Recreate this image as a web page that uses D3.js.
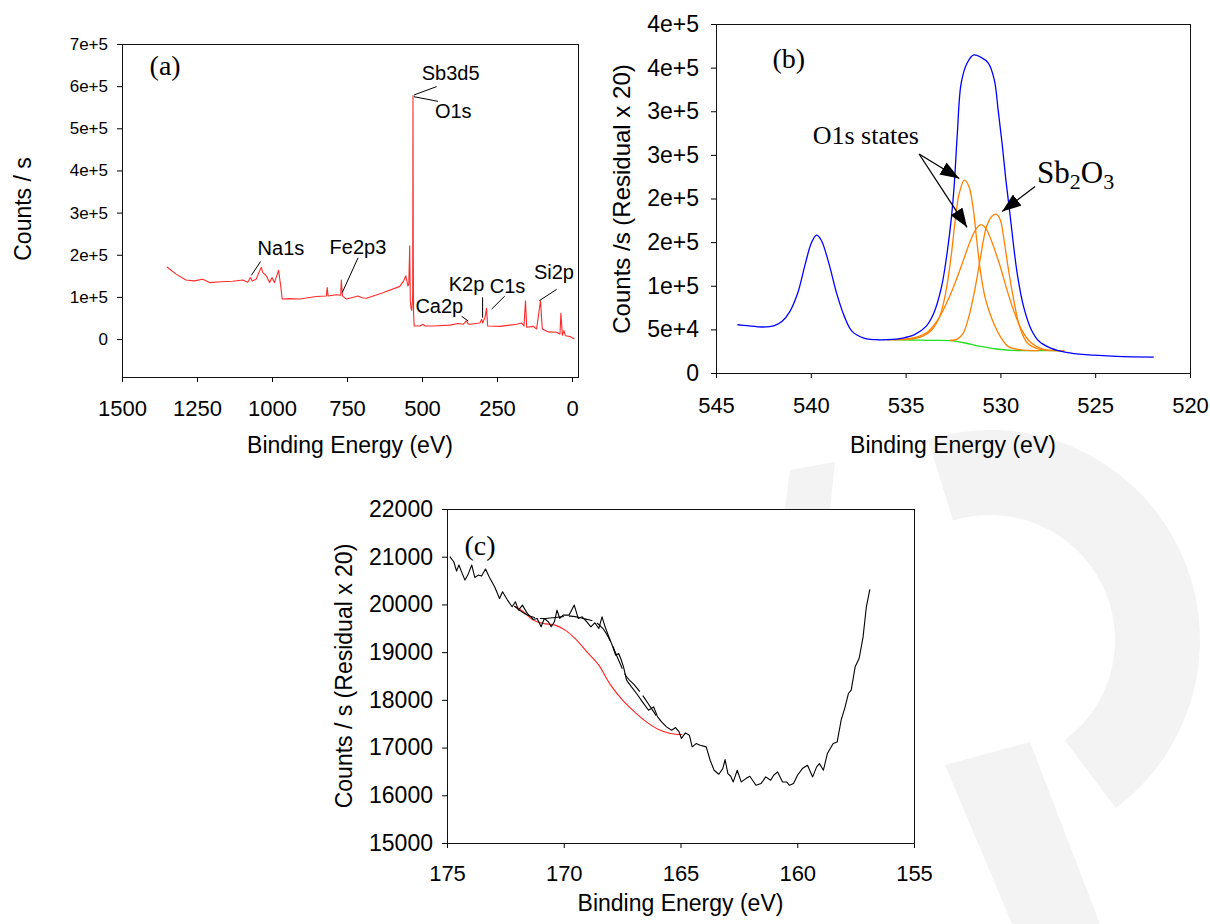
<!DOCTYPE html>
<html>
<head>
<meta charset="utf-8">
<script src="https://cdn.jsdelivr.net/npm/d3@7"></script>
<style>
body { margin: 0; background: #fff; }
svg { display: block; font-family: "Liberation Sans", Arial, sans-serif; }
</style>
</head>
<body>
<svg id="chart" width="1210" height="924"></svg>
<script>
// ---- panel (a): survey spectrum [binding energy eV, counts/s]
var surveyData = [[1350,171000],[1320,154000],[1287,140000],[1260,138000],[1231,142000],[1208,134000],[1170,136000],
  [1131,137000],[1097,140000],[1081,135000],[1072,146000],[1066,138000],[1053,142000],[1036,170000],[1031,158000],
  [1019,150000],[1008,134000],[1000,146000],[992,134000],[978,163000],[971,126000],[966,95000],[941,96000],
  [908,95000],[880,98000],[852,101000],[819,102000],[816,122000],[813,102000],[786,105000],[771,104000],
  [769,140000],[765,102000],[752,95000],[713,102000],[700,98000],[685,97000],[630,110000],[574,125000],
  [561,138000],[554,150000],[547,126000],[544,130000],[541,221000],[539,90000],[536,71000],[534,68000],
  [531,100000],[530,578000],[529,200000],[528,60000],[526,31000],[507,31000],[496,35000],[490,31000],
  [463,31000],[407,33000],[380,37000],[363,35000],[352,43000],[346,36000],[341,35000],[307,38000],
  [301,47000],[298,38000],[290,51000],[285,73000],[281,31000],[240,30000],[185,35000],[168,38000],
  [160,31000],[155,91000],[151,28000],[129,30000],[118,24000],[105,91000],[99,24000],[79,17000],
  [51,16000],[40,12000],[37,61000],[32,9000],[27,20000],[22,8000],[7,6000],[-8,0]];
var surveyPeaks = ["Na1s","Fe2p3","Sb3d5","O1s","Ca2p","K2p","C1s","Si2p"];
var surveyPeakText = [[1048,199000],[808,201000],[501,615000],[457,525000],[522,61000],[411,114000],[274,109000],[127,142000]];
var surveyPeakLeader = [[[1038,184000],[1069,151000]],[[713,193000],[766,110000]],[[451,599000],[527,579000]],
  [[527,575000],[447,564000]],[[368,54000],[346,43000]],[[298,99000],[298,51000]],[[224,102000],[268,71000]],
  [[51,118000],[109,91000]]];
var surveyXTicks = [1500,1250,1000,750,500,250,0];
var surveyYTicks = [0,100000,200000,300000,400000,500000,600000,700000];
var surveyYLabels = ["0","1e+5","2e+5","3e+5","4e+5","5e+5","6e+5","7e+5"];

// ---- panel (b): O1s / Sb3d5 region
var envelopeData = [[543.87,55300],[543.36,54200],[542.54,52700],[541.92,54200],[541.51,59200],[541.1,70600],
  [540.69,91600],[540.28,126000],[539.97,149000],[539.7,158000],[539.46,152700],[539.05,126000],[538.64,91600],
  [538.23,64900],[537.82,47700],[537.2,40000],[536.58,38200],[535.97,38200],[535.15,40000],[534.53,43900],
  [533.92,53400],[533.51,68700],[533.1,99200],[532.79,141000],[532.58,179000],[532.44,214000],[532.27,275000],
  [532.07,332000],[531.76,355000],[531.41,364500],[531.04,362000],[530.63,355000],[530.32,336000],[530.12,301500],
  [529.91,263000],[529.71,221000],[529.5,183000],[529.3,145000],[529.09,110700],[528.78,76300],[528.37,49600],
  [527.96,36300],[527.35,28600],[526.53,23700],[525.5,21000],[523.86,19100],[521.91,18300]];
var backgroundData = [[536.0,38200],[534.74,37800],[533.51,37400],[532.68,37000],[531.86,34400],[531.04,30500],
  [530.22,27500],[529.4,26000],[528.58,25600],[526.63,25600]];
var o1sPeakA = [[535.97,38200],[534.74,38900],[534.12,42000],[533.61,49600],[533.2,64900],[532.89,91600],
  [532.62,129800],[532.38,175600],[532.17,206000],[531.9,221000],[531.66,213800],[531.45,190900],[531.25,152700],
  [531.04,114500],[530.78,84000],[530.43,61000],[530.01,42000],[529.6,30500],[528.99,26700],[527.96,25600]];
var o1sPeakB = [[535.97,38200],[534.74,39700],[533.92,45800],[533.3,61000],[532.68,87800],[532.07,122000],
  [531.56,152700],[531.25,166000],[531.04,170000],[530.78,166000],[530.43,149000],[530.01,122000],[529.6,91600],
  [529.19,64900],[528.78,45800],[528.37,34400],[527.76,27500],[526.63,25600]];
var sb2o3Peak = [[532.68,37400],[532.27,38900],[531.96,45800],[531.66,64900],[531.35,95400],[531.04,133600],
  [530.73,168000],[530.43,180000],[530.22,182000],[530.01,175600],[529.81,152700],[529.6,122000],[529.3,84000],
  [528.99,53400],[528.58,34400],[527.96,27500],[526.63,25600]];
var o1sArrowFrom = [534.29,251000];
var o1sArrowTo = [[532.17,223000],[531.76,167000]];
var sbArrowFrom = [528.17,213800];
var sbArrowTo = [529.91,185000];
var o1sTextPos = [539.9,262600];
var sbTextPos = [528.07,217600];
var regionXTicks = [545,540,535,530,525,520];
var regionYTicks = [0,50000,100000,150000,200000,250000,300000,350000,400000];
var regionYLabels = ["0","5e+4","1e+5","2e+5","2e+5","3e+5","3e+5","4e+5","4e+5"];

// ---- panel (c): S2p region
var s2pData = [[174.88,21000],[174.71,20895],[174.59,20699],[174.49,20825],[174.35,20650],[174.23,20510],
  [174.11,20615],[173.94,20825],[173.81,20566],[173.66,20615],[173.52,20594],[173.35,20741],[173.18,20566],
  [172.96,20371],[172.75,20126],[172.62,20266],[172.41,20091],[172.21,19951],[172.07,20056],[171.94,19881],
  [171.77,19986],[171.56,19811],[171.31,19685],[171.14,19706],[170.97,19531],[170.83,19706],[170.66,19636],
  [170.54,19531],[170.4,19636],[170.29,19881],[170.17,19706],[170.03,19776],[169.77,19776],[169.55,19986],
  [169.38,19706],[169.21,19741],[169.01,19636],[168.84,19531],[168.67,19615],[168.5,19496],[168.36,19741],
  [168.23,19531],[168.07,19322],[167.9,19112],[167.78,18937],[167.65,18972],[167.56,18867],[167.44,18692],
  [167.31,18413],[167.1,18273],[166.88,18133],[166.63,17958],[166.37,17783],[166.15,17853],[165.98,17643],
  [165.81,17538],[165.6,17434],[165.38,17364],[165.21,17420],[165.06,17329],[164.96,17189],[164.79,17308],
  [164.62,17259],[164.5,17014],[164.33,17084],[164.16,17049],[163.9,17014],[163.73,16734],[163.56,16525],
  [163.36,16441],[163.19,16560],[163.09,16748],[162.97,16455],[162.85,16399],[162.74,16280],[162.57,16525],
  [162.4,16280],[162.2,16350],[162.03,16399],[161.77,16210],[161.55,16245],[161.35,16385],[161.14,16315],
  [161.01,16420],[160.84,16490],[160.63,16280],[160.46,16280],[160.33,16210],[160.16,16245],[159.99,16420],
  [159.78,16560],[159.56,16630],[159.34,16385],[159.17,16595],[159.05,16664],[158.88,16525],[158.71,16874],
  [158.46,17084],[158.29,17119],[158.12,17574],[157.95,17853],[157.81,18133],[157.69,18203],[157.52,18692],
  [157.35,18867],[157.18,19322],[157.04,19951],[156.89,20315]];
var s2pFit = [[172.12,19965],[171.56,19776],[171.05,19706],[170.37,19727],[169.69,19755],[169.18,19706],
  [168.67,19636],[168.33,19496],[167.99,19217],[167.65,18832],[167.31,18483],[166.97,18308],[166.63,18098],
  [166.29,17853],[165.91,17573]];
var s2pBackground = [[172.12,19965],[171.73,19846],[171.31,19671],[170.88,19601],[170.37,19566],[169.94,19461],
  [169.52,19287],[169.01,19007],[168.5,18727],[167.99,18308],[167.48,17993],[166.97,17748],[166.46,17538],
  [165.94,17378],[165.43,17294],[164.92,17273]];
var s2pXTicks = [175,170,165,160,155];
var s2pYTicks = [15000,16000,17000,18000,19000,20000,21000,22000];

var svg = d3.select("#chart");

// faint watermark behind the plots
var mark = svg.append("g").attr("fill", "#f3f3f3");
mark.append("path")
  .attr("transform", "translate(990,640)")
  .attr("d", d3.arc().innerRadius(125).outerRadius(210).startAngle(-0.3).endAngle(2.5)());
mark.append("path").attr("d", "M945,765 L1030,742 L1100,924 L1012,924 Z");
mark.append("path").attr("d", "M790,470 L835,462 L830,509 L785,509 Z");

function setupPanel(box, xDomain, yDomain, opt) {
  var x = d3.scaleLinear().domain(xDomain).range([box.left, box.right]);
  var y = d3.scaleLinear().domain(yDomain).range([box.bottom, box.top]);
  var g = svg.append("g");
  if (opt.whiteBack) {
    g.append("rect").attr("x", box.left).attr("y", box.top)
      .attr("width", box.right - box.left).attr("height", box.bottom - box.top).attr("fill", "#fff");
  }

  var xa = g.append("g").attr("transform", "translate(0," + box.bottom + ")")
    .call(d3.axisBottom(x).tickValues(opt.xTicks).tickFormat(function(d) { return String(d); })
      .tickSize(5).tickPadding(opt.xPad));
  var ya = g.append("g").attr("transform", "translate(" + box.left + ",0)")
    .call(d3.axisLeft(y).tickValues(opt.yTicks).tickFormat(function(d, i) { return opt.yLabels ? opt.yLabels[i] : String(d); })
      .tickSize(5).tickPadding(opt.yPad));
  [xa, ya].forEach(function(a) {
    a.select(".domain").remove();
    a.attr("font-family", null).attr("font-size", null);
    a.selectAll("line").attr("stroke", "#000");
    a.selectAll("text").attr("fill", "#000");
  });
  xa.selectAll("text").style("font-size", opt.xFont + "px");
  ya.selectAll("text").style("font-size", opt.yFont + "px");

  // box around plot
  g.append("rect").attr("x", box.left + 0.5).attr("y", box.top + 0.5)
    .attr("width", box.right - box.left).attr("height", box.bottom - box.top)
    .attr("fill", "none").attr("stroke", "#111").attr("stroke-width", 1);

  g.append("text").attr("x", (box.left + box.right) / 2).attr("y", box.bottom + opt.xTitleOffset)
    .attr("text-anchor", "middle").style("font-size", "23px").text(opt.xTitle);
  g.append("text")
    .attr("transform", "translate(" + opt.yTitleX + "," + opt.yTitleY + ") rotate(-90)")
    .attr("text-anchor", "middle").style("font-size", opt.yTitleFont + "px").text(opt.yTitle);
  return { g: g, x: x, y: y };
}

function curve(p, data, color, width, kind) {
  var line = d3.line().x(function(d) { return p.x(d[0]); }).y(function(d) { return p.y(d[1]); });
  if (kind) line.curve(kind);
  return p.g.append("path").datum(data).attr("d", line)
    .attr("fill", "none").attr("stroke", color).attr("stroke-width", width).attr("stroke-linejoin", "round");
}

function panelLetter(p, pos, s) {
  p.g.append("text").attr("x", p.x(pos[0])).attr("y", p.y(pos[1]))
    .style("font-family", "'Liberation Serif', 'Times New Roman', serif").style("font-size", "28px").text(s);
}

// ---------- (a)
var pa = setupPanel({ left: 122, top: 44, right: 578, bottom: 377 }, [1500, -20], [-90000, 700000], {
  xTicks: surveyXTicks, yTicks: surveyYTicks, yLabels: surveyYLabels,
  xPad: 18, yPad: 9, xFont: 22, yFont: 17,
  xTitle: "Binding Energy (eV)", xTitleOffset: 76,
  yTitle: "Counts / s", yTitleX: 31, yTitleY: 209, yTitleFont: 23
});
curve(pa, surveyData, "#ff2a2a", 1.1);
panelLetter(pa, [1408, 627000], "(a)");
surveyPeaks.forEach(function(name, i) {
  var t = surveyPeakText[i], l = surveyPeakLeader[i];
  pa.g.append("line").attr("x1", pa.x(l[0][0])).attr("y1", pa.y(l[0][1]))
    .attr("x2", pa.x(l[1][0])).attr("y2", pa.y(l[1][1])).attr("stroke", "#000").attr("stroke-width", 1);
  pa.g.append("text").attr("x", pa.x(t[0])).attr("y", pa.y(t[1])).style("font-size", "20px").text(name);
});

// ---------- (b)
var pb = setupPanel({ left: 716, top: 24, right: 1190, bottom: 373 }, [545, 520], [0, 400000], {
  xTicks: regionXTicks, yTicks: regionYTicks, yLabels: regionYLabels,
  xPad: 19, yPad: 12, xFont: 22, yFont: 23,
  xTitle: "Binding Energy (eV)", xTitleOffset: 80,
  yTitle: "Counts /s (Residual x 20)", yTitleX: 630, yTitleY: 199, yTitleFont: 24
});
var smooth = d3.curveCatmullRom.alpha(0.5);
curve(pb, backgroundData, "#22dd22", 1.3, smooth);
curve(pb, o1sPeakA, "#ff8000", 1.3, smooth);
curve(pb, o1sPeakB, "#ff8000", 1.3, smooth);
curve(pb, sb2o3Peak, "#ff8000", 1.3, smooth);
curve(pb, envelopeData, "#0000ff", 1.3, smooth);
panelLetter(pb, [542.02, 349000], "(b)");

svg.append("defs").append("marker").attr("id", "head")
  .attr("markerUnits", "userSpaceOnUse").attr("markerWidth", 20).attr("markerHeight", 14)
  .attr("refX", 19).attr("refY", 7).attr("orient", "auto")
  .append("path").attr("d", "M0,0 L19,7 L0,14 Z").attr("fill", "#000");

o1sArrowTo.forEach(function(tip) {
  pb.g.append("line").attr("x1", pb.x(o1sArrowFrom[0])).attr("y1", pb.y(o1sArrowFrom[1]))
    .attr("x2", pb.x(tip[0])).attr("y2", pb.y(tip[1]))
    .attr("stroke", "#000").attr("stroke-width", 1.3).attr("marker-end", "url(#head)");
});
pb.g.append("line").attr("x1", pb.x(sbArrowFrom[0])).attr("y1", pb.y(sbArrowFrom[1]))
  .attr("x2", pb.x(sbArrowTo[0])).attr("y2", pb.y(sbArrowTo[1]))
  .attr("stroke", "#000").attr("stroke-width", 1.3).attr("marker-end", "url(#head)");

pb.g.append("text").attr("x", pb.x(o1sTextPos[0])).attr("y", pb.y(o1sTextPos[1]))
  .style("font-family", "'Liberation Serif', 'Times New Roman', serif").style("font-size", "26px")
  .text("O1s states");
var sbText = pb.g.append("text").attr("x", pb.x(sbTextPos[0])).attr("y", pb.y(sbTextPos[1]))
  .style("font-family", "'Liberation Serif', 'Times New Roman', serif").style("font-size", "31px");
sbText.append("tspan").text("Sb");
sbText.append("tspan").attr("dy", 6).style("font-size", "22px").text("2");
sbText.append("tspan").attr("dy", -6).text("O");
sbText.append("tspan").attr("dy", 6).style("font-size", "22px").text("3");

// ---------- (c)
var pc = setupPanel({ left: 447, top: 509, right: 914, bottom: 843 }, [175, 155], [15000, 22000], {
  xTicks: s2pXTicks, yTicks: s2pYTicks,
  xPad: 17, yPad: 9, xFont: 22, yFont: 23, whiteBack: true,
  xTitle: "Binding Energy (eV)", xTitleOffset: 68,
  yTitle: "Counts / s (Residual x 20)", yTitleX: 352, yTitleY: 676, yTitleFont: 23
});
curve(pc, s2pBackground, "#ff2020", 1.1, smooth);
curve(pc, s2pFit, "#000", 1.1, smooth).attr("stroke-dasharray", "24,5");
curve(pc, s2pData, "#000", 1.1);
panelLetter(pc, [174.25, 21035], "(c)");
</script>
</body>
</html>
